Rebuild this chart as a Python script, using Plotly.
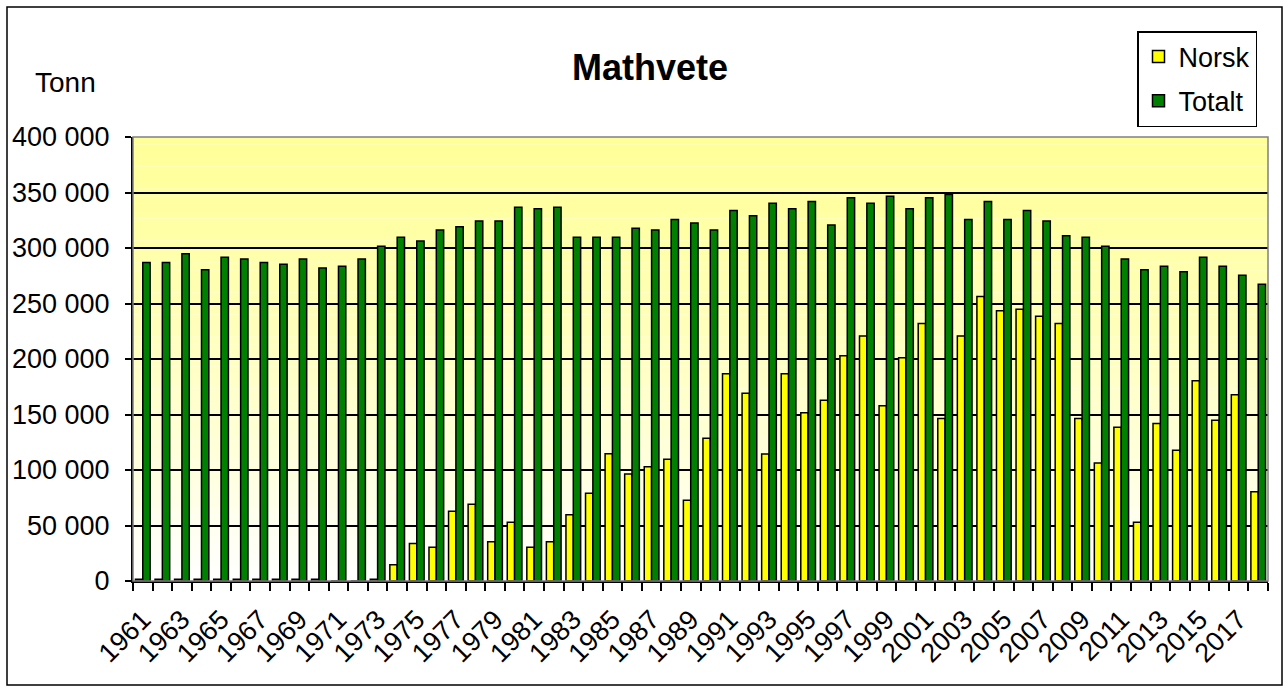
import plotly.graph_objects as go

# Mathvete: norsk produksjon og totalt forbruk (tonn)
years = list(range(1961, 2019))

norsk = [1500, 1500, 1500, 1500, 1500, 1500, 1500, 1500, 1500, 1500,
         0, 0, 1500, 14700, 33800, 30500, 62900, 69200, 35300, 53000,
         30500, 35300, 59600, 79000, 114700, 96400, 103000, 109600, 72800, 128700,
         186800, 169200, 114400, 186800, 151500, 162900, 203000, 220700, 157800, 201200,
         232000, 146400, 220700, 256300, 243400, 244900, 238600, 232000, 146400, 106300,
         138600, 53000, 141900, 117700, 180500, 144900, 167700, 80500]

totalt = [287000, 287000, 294900, 280500, 291600, 290100, 287000, 285300, 290100, 282000,
          283500, 290100, 301500, 309600, 306300, 316200, 319200, 324300, 324300, 336800,
          335300, 336800, 309600, 309600, 309600, 317700, 316200, 325700, 322500, 316200,
          333800, 329000, 340400, 335300, 341900, 320700, 345200, 340400, 346700, 335300,
          345200, 348200, 325700, 341900, 325700, 333800, 324300, 311100, 309600, 301500,
          290100, 280500, 283500, 278700, 291600, 283500, 275400, 267400]

label_years = years[::2]

FONT = "Liberation Sans, Arial, sans-serif"

fig = go.Figure()
fig.add_trace(go.Bar(x=years, y=norsk, name="Norsk", legendgroup="n",
                     marker=dict(color="#FFFF00", line=dict(color="black", width=1.5))))
fig.add_trace(go.Bar(x=years, y=totalt, name="Totalt", legendgroup="t",
                     marker=dict(color="#008000", line=dict(color="black", width=1.5))))

# gradient background (pale yellow at top fading to white)
shapes = []
n = 60
for i in range(n):
    f = (i + 0.5) / n
    g = int(round(0x99 + (0xFF - 0x99) * (1 - f) ** 1.3))
    shapes.append(dict(type="rect", xref="x domain", yref="y domain",
                       x0=0, x1=1, y0=i / n, y1=(i + 1) / n,
                       fillcolor="#FFFF%02X" % g, line=dict(width=0), layer="below"))
# plot area border
shapes.append(dict(type="rect", xref="x domain", yref="y domain", x0=0, x1=1, y0=0, y1=1,
                   line=dict(color="#808080", width=1.5), layer="above"))
# outer chart border
shapes.append(dict(type="rect", xref="paper", yref="paper",
                   x0=(7 - 133) / 1135, x1=(1282 - 133) / 1135,
                   y0=(581 - 685) / 444, y1=(581 - 7) / 444,
                   line=dict(color="black", width=1.5), layer="above"))

fig.update_layout(
    width=1288, height=688,
    margin=dict(l=133, r=20, t=137, b=107),
    paper_bgcolor="white", plot_bgcolor="white",
    font=dict(family=FONT, size=27, color="black"),
    separators=", ",
    barmode="group", bargap=0.25, bargroupgap=0,
    title=dict(text="<b>Mathvete</b>", font=dict(size=36, family=FONT),
               xref="paper", x=(650 - 133) / 1135, xanchor="center",
               yref="container", y=1 - 67 / 688, yanchor="middle"),
    legend=dict(x=(1137 - 133) / 1135, y=(581 - 31) / 444, xanchor="left", yanchor="top",
                bordercolor="black", borderwidth=1.5, bgcolor="white",
                font=dict(size=27), traceorder="grouped", tracegroupgap=6),
    shapes=shapes,
    annotations=[dict(text="Tonn", xref="paper", yref="paper",
                      x=(33 - 133) / 1135, y=(581 - 83) / 444,
                      xanchor="left", yanchor="middle", showarrow=False,
                      font=dict(size=28))],
)

fig.update_xaxes(
    range=[1960.5, 2018.5], tickmode="array", tickvals=label_years,
    ticktext=[str(y) for y in label_years], tickangle=-45, ticks="",
    showgrid=False, showline=True, linecolor="black", linewidth=2,
    minor=dict(ticks="outside", ticklen=8, tick0=1960.5, dtick=1,
               tickcolor="black", tickwidth=1.5, showgrid=False),
    ticklabelstandoff=10, automargin=False,
)
fig.update_yaxes(
    range=[0, 400000], dtick=50000, tickformat=",d",
    showgrid=True, gridcolor="black", gridwidth=1.6,
    showline=True, linecolor="black", linewidth=2,
    ticks="outside", ticklen=6, tickcolor="black", tickwidth=1.5,
    ticklabelstandoff=10, zeroline=False, automargin=False,
)

fig.write_html("out.html", config={"displayModeBar": False},
               post_script="document.body.style.margin='0';")
